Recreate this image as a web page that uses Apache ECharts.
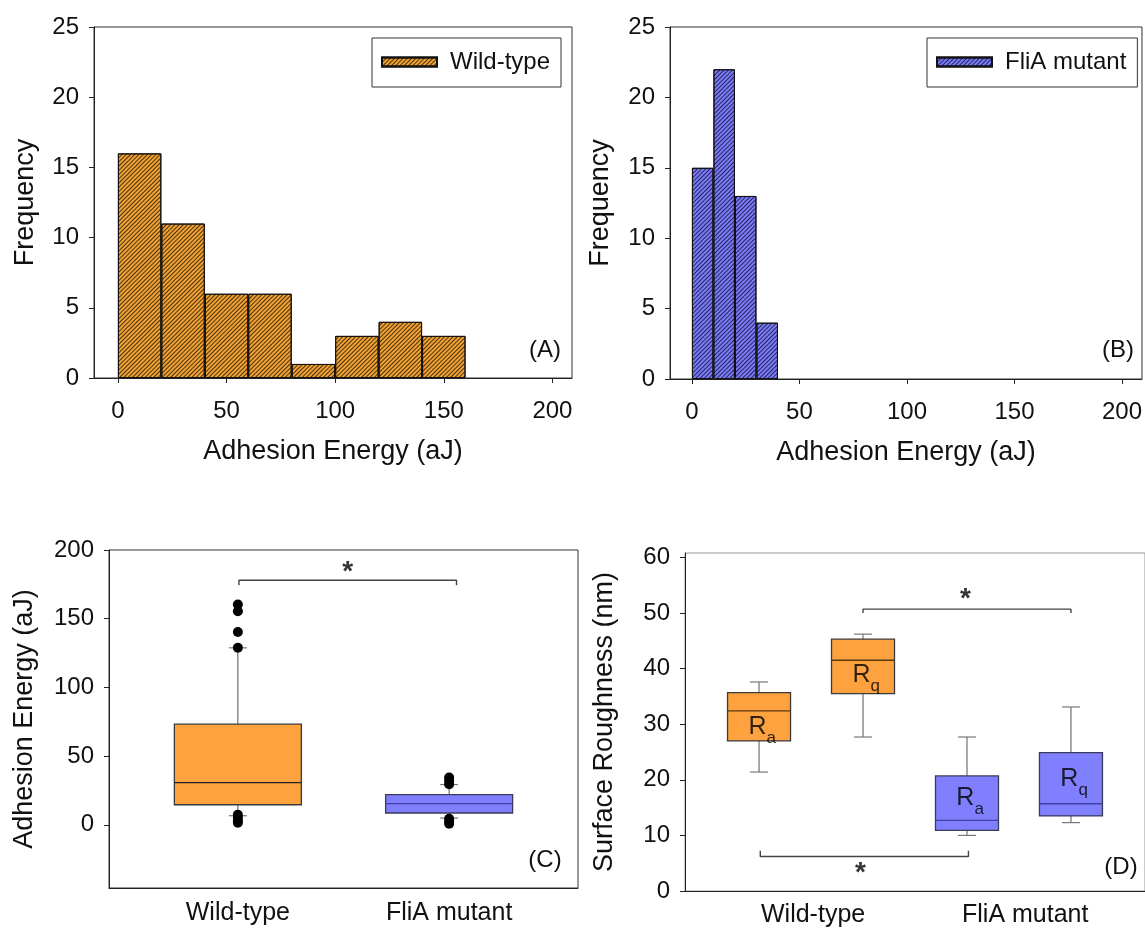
<!DOCTYPE html>
<html><head><meta charset="utf-8">
<script src="https://cdn.jsdelivr.net/npm/echarts@6/dist/echarts.min.js"></script>
<style>html,body{margin:0;padding:0;background:#fff}#c{width:1145px;height:928px}</style>
</head><body><div id="c"></div>
<script>
// ---------------- data ----------------
// Panel A: Wild-type histogram (bin width 20 aJ)
const histA_binStart = [0, 20, 40, 60, 80, 100, 120, 140];
const histA_binWidth = 20;
const histA_counts = [16, 11, 6, 6, 1, 3, 4, 3];
// Panel B: FliA mutant histogram (bin width 10 aJ)
const histB_binStart = [0, 10, 20, 30];
const histB_binWidth = 10;
const histB_counts = [15, 22, 13, 4];
const histXTicks = [0, 50, 100, 150, 200];
const freqTicks = [0, 5, 10, 15, 20, 25];

// Panel C: adhesion energy box plots  [position, lower whisker, Q1, median, Q3, upper whisker]
const groupNames = ['Wild-type', 'FliA mutant'];
const adhesionWT = [[1, 6.6, 14.6, 30.7, 73.2, 128.8]];
const adhesionMut = [[2, 4.9, 8.6, 15.4, 22.0, 29.3]];
const adhesionOutliersWT = [[1, 160.3], [1, 155.4], [1, 140.3], [1, 128.8], [1, 7.3], [1, 5.0], [1, 3.0], [1, 1.5]];
const adhesionOutliersMut = [[2, 34.4], [2, 32.0], [2, 29.6], [2, 4.4], [2, 2.2], [2, 0.7]];
const adhesionTicks = [0, 50, 100, 150, 200];
const adhesionCatPos = [1, 2];
const sigBracketC = [[1.005, 174.4], [1.005, 178], [2.035, 178], [2.035, 174.4]];
const sigStarC = [[1.52, 188]];

// Panel D: surface roughness box plots (Ra, Rq)
const roughWT = [[1, 21.4, 27.0, 32.4, 35.7, 37.6], [2, 27.7, 35.5, 41.5, 45.3, 46.2]];
const roughMut = [[3, 10.0, 10.9, 12.7, 20.7, 27.7], [4, 12.3, 13.5, 15.7, 24.9, 33.1]];
const roughTicks = [0, 10, 20, 30, 40, 50, 60];
const roughCatPos = [1.52, 3.56];
const roughLabelPos = [[1.03, 29.4], [2.03, 38.7], [3.03, 16.6], [4.03, 20.0]];
const roughLabelSub = ['a', 'q', 'a', 'q'];
const sigBracketD1 = [[2, 50.0], [2, 50.7], [4, 50.7], [4, 50.0]];
const sigBracketD2 = [[1.012, 7.25], [1.012, 6.2], [3.014, 6.2], [3.014, 7.25]];
const sigStarD = [[2.985, 53.6], [1.975, 4.3]];

// ---------------- styling helpers ----------------
const FONT = 'Liberation Sans, Arial, Helvetica, sans-serif';
const TXT = '#111';
const ORANGE_H = '#F2A233', BLUE_H = '#7C7CF2';
const ORANGE_B = '#FDA23F', BLUE_B = '#8080FF';

function hatch(color) {
  return { symbol: 'rect', symbolSize: 1, color: color, dashArrayX: [1, 0], dashArrayY: [1, 2], rotation: -Math.PI / 4 };
}
function valueAxisX(grid, min, max, ticks, extra) {
  return Object.assign({
    type: 'value', gridIndex: grid, min: min, max: max,
    axisLine: { show: true, onZero: false, lineStyle: { color: '#222', width: 1 } },
    axisTick: { show: true, length: 5, customValues: ticks, lineStyle: { color: '#222' } },
    axisLabel: { customValues: ticks, fontSize: 24, color: TXT, fontFamily: FONT, margin: 21 },
    splitLine: { show: false }
  }, extra || {});
}
function valueAxisY(grid, min, max, ticks, name, gap) {
  return {
    type: 'value', gridIndex: grid, min: min, max: max,
    name: name, nameLocation: 'middle', nameGap: gap,
    nameTextStyle: { fontSize: 27, color: TXT, fontFamily: FONT },
    axisLine: { show: true, onZero: false, lineStyle: { color: '#222', width: 1 } },
    axisTick: { show: true, length: 5, customValues: ticks, lineStyle: { color: '#222' } },
    axisLabel: { customValues: ticks, fontSize: 24, color: TXT, fontFamily: FONT, margin: 15 },
    splitLine: { show: false }
  };
}
function histData(starts, width, counts) {
  return starts.map((s, i) => [s + width / 2, counts[i]]);
}
function boxRenderer(boxPx, capPx, fill, stroke, medColor) {
  return function (params, api) {
    const x = api.value(0);
    const pMin = api.coord([x, api.value(1)]);
    const pQ1 = api.coord([x, api.value(2)]);
    const pMed = api.coord([x, api.value(3)]);
    const pQ3 = api.coord([x, api.value(4)]);
    const pMax = api.coord([x, api.value(5)]);
    const cx = pMed[0], h = boxPx / 2, c = capPx / 2;
    const wl = { stroke: '#555', lineWidth: 1 };
    return {
      type: 'group', children: [
        { type: 'line', shape: { x1: cx, y1: pQ1[1], x2: cx, y2: pMin[1] }, style: wl },
        { type: 'line', shape: { x1: cx, y1: pQ3[1], x2: cx, y2: pMax[1] }, style: wl },
        { type: 'line', shape: { x1: cx - c, y1: pMin[1], x2: cx + c, y2: pMin[1] }, style: { stroke: '#777', lineWidth: 1.2 } },
        { type: 'line', shape: { x1: cx - c, y1: pMax[1], x2: cx + c, y2: pMax[1] }, style: { stroke: '#777', lineWidth: 1.2 } },
        { type: 'rect', shape: { x: cx - h, y: pQ3[1], width: boxPx, height: pQ1[1] - pQ3[1] }, style: { fill: fill, stroke: stroke, lineWidth: 1.3 } },
        { type: 'line', shape: { x1: cx - h, y1: pMed[1], x2: cx + h, y2: pMed[1] }, style: { stroke: medColor, lineWidth: 1.4 } }
      ]
    };
  };
}
function bracket(data, xi, yi) {
  return { type: 'line', xAxisIndex: xi, yAxisIndex: yi, data: data, symbol: 'none', silent: true,
    lineStyle: { color: '#444', width: 1.4 }, z: 5 };
}
function stars(data, xi, yi) {
  return { type: 'scatter', xAxisIndex: xi, yAxisIndex: yi, data: data, symbolSize: 0, silent: true,
    label: { show: true, position: 'inside', formatter: '*', fontSize: 28, fontWeight: 'bold', color: '#000', fontFamily: FONT, offset: [0, 6] } };
}
function legendOpt(name, left, top) {
  return {
    data: [name], selectedMode: false, left: left, top: top, icon: 'rect',
    itemWidth: 55, itemHeight: 9, padding: [12, 11, 13, 9],
    borderColor: '#333', borderWidth: 1, backgroundColor: '#fff',
    textStyle: { fontSize: 24, color: TXT, fontFamily: FONT, padding: [0, 0, 0, 8] }
  };
}

const chart = echarts.init(document.getElementById('c'), null, { renderer: 'canvas' });
const option = {
  backgroundColor: '#fff',
  animation: false,
  textStyle: { fontFamily: FONT },
  grid: [
    { left: 94, top: 27, width: 478, height: 351, show: true, borderColor: '#333', borderWidth: 1, backgroundColor: 'transparent' },
    { left: 670, top: 27, width: 473, height: 352, show: true, borderColor: '#333', borderWidth: 1, backgroundColor: 'transparent' },
    { left: 109, top: 550, width: 469, height: 338, show: true, borderColor: '#333', borderWidth: 1, backgroundColor: 'transparent' },
    { left: 685, top: 553, width: 464, height: 338, show: true, borderColor: '#999', borderWidth: 1, backgroundColor: 'transparent' }
  ],
  legend: [legendOpt('Wild-type', 372, 38), legendOpt('FliA mutant', 927, 38)],
  xAxis: [
    valueAxisX(0, -11, 209, histXTicks, { name: 'Adhesion Energy (aJ)', nameLocation: 'middle', nameGap: 60, nameTextStyle: { fontSize: 27, color: TXT, fontFamily: FONT } }),
    valueAxisX(1, -10.2, 209.3, histXTicks, { name: 'Adhesion Energy (aJ)', nameLocation: 'middle', nameGap: 60, nameTextStyle: { fontSize: 27, color: TXT, fontFamily: FONT } }),
    valueAxisX(2, 0.39, 2.61, adhesionCatPos, {
      axisTick: { show: false },
      axisLabel: { customValues: adhesionCatPos, fontSize: 25, color: TXT, fontFamily: FONT, margin: 13,
        formatter: v => groupNames[adhesionCatPos.indexOf(v)] || '' }
    }),
    valueAxisX(3, 0.288, 4.712, roughCatPos, {
      axisTick: { show: false },
      axisLabel: { customValues: roughCatPos, fontSize: 25, color: TXT, fontFamily: FONT, margin: 12,
        formatter: v => groupNames[roughCatPos.indexOf(v)] || '' }
    })
  ],
  yAxis: [
    valueAxisY(0, 0, 25, freqTicks, 'Frequency', 55),
    valueAxisY(1, 0, 25, freqTicks, 'Frequency', 56),
    valueAxisY(2, -46, 200, adhesionTicks, 'Adhesion Energy (aJ)', 71),
    valueAxisY(3, 0, 60.8, roughTicks, 'Surface Roughness (nm)', 67)
  ],
  series: [
    { name: 'Wild-type', type: 'bar', xAxisIndex: 0, yAxisIndex: 0, barWidth: '100%',
      data: histData(histA_binStart, histA_binWidth, histA_counts),
      itemStyle: { color: ORANGE_H, borderColor: '#111', borderWidth: 1, decal: hatch('rgba(45,30,8,0.85)') } },
    { name: 'FliA mutant', type: 'bar', xAxisIndex: 1, yAxisIndex: 1, barWidth: '100%',
      data: histData(histB_binStart, histB_binWidth, histB_counts),
      itemStyle: { color: BLUE_H, borderColor: '#111', borderWidth: 1, decal: hatch('rgba(20,20,80,0.85)') } },

    { name: 'C-WT', type: 'custom', xAxisIndex: 2, yAxisIndex: 2, data: adhesionWT,
      encode: { x: 0, y: [1, 2, 3, 4, 5] }, renderItem: boxRenderer(127, 18, ORANGE_B, '#3a3a3a', '#222') },
    { name: 'C-Mut', type: 'custom', xAxisIndex: 2, yAxisIndex: 2, data: adhesionMut,
      encode: { x: 0, y: [1, 2, 3, 4, 5] }, renderItem: boxRenderer(127, 18, BLUE_B, '#3a3a5a', '#4040a0') },
    { name: 'C-out', type: 'scatter', xAxisIndex: 2, yAxisIndex: 2, symbolSize: 10, z: 4,
      data: adhesionOutliersWT.concat(adhesionOutliersMut), itemStyle: { color: '#000', opacity: 1 } },
    bracket(sigBracketC, 2, 2),
    stars(sigStarC, 2, 2),

    { name: 'D-WT', type: 'custom', xAxisIndex: 3, yAxisIndex: 3, data: roughWT,
      encode: { x: 0, y: [1, 2, 3, 4, 5] }, renderItem: boxRenderer(63, 18, ORANGE_B, '#3a3a3a', '#5a3a10') },
    { name: 'D-Mut', type: 'custom', xAxisIndex: 3, yAxisIndex: 3, data: roughMut,
      encode: { x: 0, y: [1, 2, 3, 4, 5] }, renderItem: boxRenderer(63, 18, BLUE_B, '#3a3a5a', '#4040a0') },
    { name: 'D-labels', type: 'scatter', xAxisIndex: 3, yAxisIndex: 3, data: roughLabelPos, symbolSize: 0, silent: true, z: 6,
      label: { show: true, position: 'inside', color: '#000',
        formatter: p => '{r|R}{s|' + roughLabelSub[p.dataIndex] + '}',
        rich: {
          r: { fontSize: 25, lineHeight: 26, verticalAlign: 'top', fontFamily: FONT, color: '#000' },
          s: { fontSize: 17, lineHeight: 17, padding: [15, 0, 0, 0], verticalAlign: 'top', fontFamily: FONT, color: '#000' }
        } } },
    bracket(sigBracketD1, 3, 3),
    bracket(sigBracketD2, 3, 3),
    stars(sigStarD, 3, 3)
  ],
  graphic: [
    { type: 'text', x: 545, y: 350, style: { text: '(A)', font: '24px ' + FONT, fill: TXT, align: 'center', verticalAlign: 'middle' } },
    { type: 'text', x: 1118, y: 350, style: { text: '(B)', font: '24px ' + FONT, fill: TXT, align: 'center', verticalAlign: 'middle' } },
    { type: 'text', x: 545, y: 860, style: { text: '(C)', font: '24px ' + FONT, fill: TXT, align: 'center', verticalAlign: 'middle' } },
    { type: 'text', x: 1121, y: 867, style: { text: '(D)', font: '24px ' + FONT, fill: TXT, align: 'center', verticalAlign: 'middle' } }
  ]
};
chart.setOption(option);
</script>
</body></html>
